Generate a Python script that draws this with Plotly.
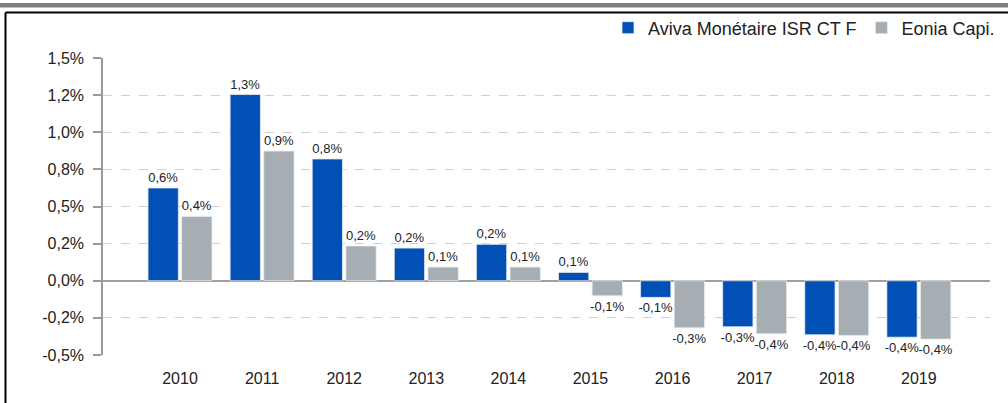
import plotly.graph_objects as go

years = ["2010", "2011", "2012", "2013", "2014", "2015", "2016", "2017", "2018", "2019"]
fund = [0.625, 1.254, 0.82, 0.22, 0.245, 0.056, -0.112, -0.31, -0.364, -0.38]
index = [0.433, 0.873, 0.234, 0.092, 0.092, -0.101, -0.317, -0.357, -0.368, -0.393]
series_names = ["Aviva Monétaire ISR CT F", "Eonia Capi."]
tick_vals = [-0.5, -0.25, 0, 0.25, 0.5, 0.75, 1.0, 1.25, 1.5]
tick_text = ["-0,5%", "-0,2%", "0,0%", "0,2%", "0,5%", "0,8%", "1,0%", "1,2%", "1,5%"]

def lab(v):
    return f"{v:.1f}".replace(".", ",") + "%"

FONT = "Liberation Sans, Arial, sans-serif"
fig = go.Figure()
for name, vals, col in [(series_names[0], fund, "#0050B5"), (series_names[1], index, "#A6ADB3")]:
    fig.add_trace(go.Bar(
        x=years, y=vals, name=name, marker=dict(color=col, line=dict(color="#E8EAEC", width=0.8)),
        text=[lab(v) for v in vals], textposition="outside", cliponaxis=False, constraintext="none",
        textfont=dict(size=13, color="#222", family=FONT),
    ))

W, H = 1008, 403
L, R, T, B = 103, 990, 58, 355
def px(p):
    return (p - L) / (R - L)
def py(q):
    return (B - q) / (B - T)

shapes = [
    dict(type="rect", xref="paper", yref="paper", x0=px(0), x1=px(W), y0=py(7.5), y1=py(3), fillcolor="#808080", line=dict(width=0), layer="above"),
    dict(type="line", xref="paper", yref="paper", x0=px(5.5), x1=px(W), y0=py(12.5), y1=py(12.5), line=dict(color="black", width=2)),
    dict(type="line", xref="paper", yref="paper", x0=px(5.5), x1=px(5.5), y0=py(12.5), y1=py(H + 5), line=dict(color="black", width=2)),
]

fig.update_layout(
    width=W, height=H,
    margin=dict(l=L, r=W - R, t=T, b=H - B, pad=0, autoexpand=False),
    paper_bgcolor="white", plot_bgcolor="white",
    barmode="group", bargap=0.18, bargroupgap=0.1,
    font=dict(family=FONT, size=16, color="#222"),
    showlegend=True,
    legend=dict(orientation="h", x=px(608), xanchor="left", y=py(28), yanchor="middle",
                font=dict(size=18, color="#222", family=FONT), itemwidth=30, traceorder="normal",
                bgcolor="rgba(0,0,0,0)", borderwidth=0),
    shapes=shapes,
    xaxis=dict(range=[-0.938, 9.867], showgrid=False, showline=False, ticks="",
               ticklabelstandoff=12,
               tickfont=dict(size=16, color="#222"), fixedrange=True),
    yaxis=dict(range=[-0.5, 1.5], tickvals=tick_vals, ticktext=tick_text,
               showgrid=True, gridcolor="#D0D0D0", griddash="dash", gridwidth=1,
               zeroline=True, zerolinecolor="#A0A0A0", zerolinewidth=1.5,
               showline=True, linecolor="#999", linewidth=1.5,
               ticks="outside", ticklen=8, tickcolor="#999", tickwidth=1.5,
               ticklabelstandoff=6,
               tickfont=dict(size=16, color="#222"), fixedrange=True),
)

fig.write_html("out.html", config={"displayModeBar": False},
               post_script="document.body.style.margin='0';document.body.style.overflow='hidden';")
